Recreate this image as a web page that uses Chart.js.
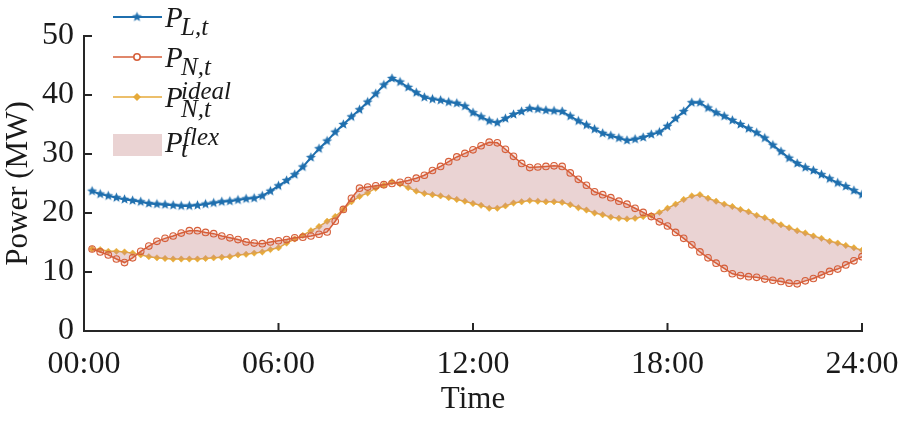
<!DOCTYPE html>
<html>
<head>
<meta charset="utf-8">
<script src="https://cdn.jsdelivr.net/npm/chart.js@4.4.1/dist/chart.umd.min.js"></script>
<style>
  body { margin: 0; background: #fff; }
  #wrap { position: relative; width: 903px; height: 421px; }
  .lg { position: absolute; font-family: "Liberation Serif", "DejaVu Serif", serif; font-style: italic; color: #1a1a1a; line-height: 1; white-space: nowrap; }
  .big { font-size: 29px; }
  .small { font-size: 25px; }
</style>
</head>
<body>
<div id="wrap">
  <canvas id="myLineChart" width="903" height="421"></canvas>
  <span class="lg big" style="left:165px;top:3px">P</span>
  <span class="lg small" style="left:181px;top:14px">L,t</span>
  <span class="lg big" style="left:165px;top:43px">P</span>
  <span class="lg small" style="left:181px;top:54px">N,t</span>
  <span class="lg big" style="left:165px;top:83px">P</span>
  <span class="lg small" style="left:181px;top:78px">ideal</span>
  <span class="lg small" style="left:181px;top:96px">N,t</span>
  <span class="lg big" style="left:165px;top:128px">P</span>
  <span class="lg small" style="left:183px;top:124px">flex</span>
  <span class="lg small" style="left:181px;top:136px">t</span>
</div>
<script>
// 15-minute samples, 00:15 .. 24:00
var hours = Array.from({ length: 96 }, function (_, i) { return (i + 1) / 4; });

var loadP = [23.7, 23.2, 22.9, 22.6, 22.3, 22.1, 21.9, 21.6, 21.5, 21.4, 21.3, 21.2,
  21.2, 21.3, 21.5, 21.7, 21.9, 22.0, 22.2, 22.4, 22.5, 22.9, 23.7, 24.6,
  25.5, 26.5, 27.8, 29.4, 30.9, 32.2, 33.7, 35.0, 36.3, 37.5, 38.8, 40.2,
  41.7, 42.8, 42.2, 41.3, 40.4, 39.6, 39.3, 39.1, 38.8, 38.6, 38.1, 37.0,
  36.3, 35.6, 35.3, 36.0, 36.7, 37.2, 37.7, 37.6, 37.4, 37.3, 37.2, 36.4,
  35.6, 34.9, 34.2, 33.5, 33.1, 32.7, 32.3, 32.5, 32.8, 33.3, 33.7, 34.7,
  36.0, 37.2, 38.7, 38.7, 37.8, 37.0, 36.4, 35.7, 35.0, 34.3, 33.6, 32.7,
  31.5, 30.4, 29.3, 28.4, 27.7, 27.2, 26.5, 25.8, 25.1, 24.5, 23.8, 23.1];

var netP = [13.9, 13.4, 12.9, 12.2, 11.6, 12.4, 13.5, 14.4, 15.2, 15.7, 16.1, 16.6,
  17.0, 17.0, 16.7, 16.5, 16.1, 15.8, 15.5, 15.1, 14.9, 14.8, 15.1, 15.3,
  15.5, 15.8, 15.9, 16.1, 16.4, 16.8, 18.6, 20.6, 22.5, 24.2, 24.4, 24.6,
  24.8, 25.0, 25.2, 25.5, 25.9, 26.4, 27.2, 27.9, 28.7, 29.5, 30.1, 30.7,
  31.4, 32.0, 31.9, 30.8, 29.6, 28.4, 27.7, 27.8, 27.9, 28.0, 27.9, 26.8,
  25.7, 24.7, 23.6, 23.1, 22.6, 22.0, 21.5, 20.8, 20.1, 19.4, 18.5, 17.8,
  16.7, 15.7, 14.6, 13.4, 12.4, 11.5, 10.6, 9.7, 9.4, 9.2, 9.1, 8.8,
  8.6, 8.4, 8.1, 8.0, 8.5, 8.9, 9.5, 10.1, 10.5, 11.2, 11.9, 12.6];

var idealP = [13.9, 13.8, 13.5, 13.5, 13.4, 13.2, 12.9, 12.6, 12.4, 12.3, 12.2, 12.2,
  12.2, 12.2, 12.3, 12.4, 12.5, 12.6, 12.9, 13.0, 13.2, 13.4, 13.8, 14.1,
  14.9, 15.6, 16.2, 17.0, 17.7, 18.6, 19.4, 20.6, 21.9, 22.8, 23.4, 24.2,
  24.7, 25.3, 24.9, 24.3, 23.7, 23.3, 23.1, 22.9, 22.6, 22.3, 22.0, 21.6,
  21.3, 20.8, 20.8, 21.2, 21.7, 21.9, 22.1, 22.0, 21.9, 21.9, 21.8, 21.4,
  20.9, 20.5, 20.0, 19.7, 19.3, 19.1, 19.0, 19.1, 19.4, 19.6, 20.1, 20.8,
  21.5, 22.3, 22.9, 23.1, 22.5, 22.0, 21.5, 21.1, 20.6, 20.2, 19.6, 19.2,
  18.6, 18.0, 17.5, 17.0, 16.6, 16.1, 15.7, 15.2, 14.9, 14.5, 14.1, 13.7];

var xTicks = [0, 6, 12, 18, 24];
var xTickLabels = ['00:00', '06:00', '12:00', '18:00', '24:00'];
var yTicks = [0, 10, 20, 30, 40, 50];

var blue = '#1f6fae', red = '#d65f3a', yellow = '#e6aa3a';
var flexFill = 'rgba(200, 140, 140, 0.38)';
var axisColor = '#262626';
var serif = '"Liberation Serif", "DejaVu Serif", serif';

function pts(arr) {
  return hours.map(function (h, i) { return { x: h, y: arr[i] }; });
}

function starMarker(color, r) {
  var c = document.createElement('canvas');
  var s = Math.ceil(r * 2 + 2);
  c.width = s; c.height = s;
  var g = c.getContext('2d');
  g.beginPath();
  for (var k = 0; k < 10; k++) {
    var a = -Math.PI / 2 + k * Math.PI / 5;
    var rr = k % 2 ? r * 0.45 : r;
    var px = s / 2 + rr * Math.cos(a), py = s / 2 + rr * Math.sin(a);
    if (k === 0) g.moveTo(px, py); else g.lineTo(px, py);
  }
  g.closePath();
  g.fillStyle = color;
  g.fill();
  return c;
}
var blueStar = starMarker(blue, 5.2);

// inward ticks + legend symbols
var decorPlugin = {
  id: 'decor',
  afterDraw: function (chart) {
    var ctx = chart.ctx, area = chart.chartArea;
    var xs = chart.scales.x, ys = chart.scales.y;
    ctx.save();
    ctx.strokeStyle = axisColor;
    ctx.lineWidth = 2;
    xTicks.forEach(function (v) {
      var px = xs.getPixelForValue(v);
      ctx.beginPath(); ctx.moveTo(px, area.bottom); ctx.lineTo(px, area.bottom - 8); ctx.stroke();
    });
    yTicks.forEach(function (v) {
      var py = ys.getPixelForValue(v);
      ctx.beginPath(); ctx.moveTo(area.left, py); ctx.lineTo(area.left + 8, py); ctx.stroke();
    });

    var x0 = 113, x1 = 162, xm = 137;
    // P_L,t
    ctx.strokeStyle = blue; ctx.lineWidth = 2;
    ctx.beginPath(); ctx.moveTo(x0, 17); ctx.lineTo(x1, 17); ctx.stroke();
    ctx.drawImage(blueStar, xm - blueStar.width / 2, 17 - blueStar.height / 2);
    // P_N,t
    ctx.strokeStyle = red; ctx.lineWidth = 1.6;
    ctx.beginPath(); ctx.moveTo(x0, 57); ctx.lineTo(x1, 57); ctx.stroke();
    ctx.fillStyle = '#fff';
    ctx.beginPath(); ctx.arc(xm, 57, 3.2, 0, Math.PI * 2); ctx.fill(); ctx.stroke();
    // ideal
    ctx.strokeStyle = yellow; ctx.lineWidth = 1.6;
    ctx.beginPath(); ctx.moveTo(x0, 97); ctx.lineTo(x1, 97); ctx.stroke();
    ctx.fillStyle = yellow;
    ctx.beginPath(); ctx.moveTo(xm, 93); ctx.lineTo(xm + 4, 97); ctx.lineTo(xm, 101); ctx.lineTo(xm - 4, 97); ctx.closePath(); ctx.fill();
    // flex patch
    ctx.fillStyle = flexFill;
    ctx.fillRect(x0, 134, x1 - x0, 22);
    ctx.restore();
  }
};

var ctx = document.getElementById('myLineChart').getContext('2d');
var myLineChart = new Chart(ctx, {
  type: 'line',
  data: {
    datasets: [
      {
        label: 'P_L,t',
        data: pts(loadP),
        borderColor: blue,
        borderWidth: 2,
        pointStyle: blueStar,
        pointRadius: 5,
        fill: false
      },
      {
        label: 'P_N,t',
        data: pts(netP),
        borderColor: red,
        borderWidth: 1.5,
        pointStyle: 'circle',
        pointRadius: 3.3,
        pointBorderWidth: 1.1,
        pointBorderColor: red,
        pointBackgroundColor: 'rgba(214, 95, 58, 0.15)',
        backgroundColor: flexFill,
        fill: '+1'
      },
      {
        label: 'P_N,t ideal',
        data: pts(idealP),
        borderColor: yellow,
        borderWidth: 1.5,
        pointStyle: 'rectRot',
        pointRadius: 3.2,
        pointBackgroundColor: yellow,
        pointBorderColor: yellow,
        pointBorderWidth: 0.5,
        fill: false
      }
    ]
  },
  options: {
    responsive: false,
    animation: false,
    layout: { padding: { top: 36, right: 41, left: 0, bottom: 0 } },
    plugins: { legend: { display: false }, tooltip: { enabled: false } },
    scales: {
      x: {
        type: 'linear',
        min: 0,
        max: 24,
        afterBuildTicks: function (scale) { scale.ticks = xTicks.map(function (v) { return { value: v }; }); },
        afterFit: function (scale) { scale.height = 90; scale.paddingLeft = 0; scale.paddingRight = 0; },
        grid: { display: false, drawTicks: false },
        border: { display: true, color: axisColor, width: 2 },
        ticks: {
          padding: 14,
          color: '#1a1a1a',
          font: { family: serif, size: 32 },
          maxRotation: 0,
          callback: function (v) { return xTickLabels[xTicks.indexOf(v)]; }
        },
        title: { display: true, text: 'Time', color: '#1a1a1a', font: { family: serif, size: 31 }, padding: { top: 0, bottom: 3 } }
      },
      y: {
        min: 0,
        max: 50,
        afterBuildTicks: function (scale) { scale.ticks = yTicks.map(function (v) { return { value: v }; }); },
        afterFit: function (scale) { scale.width = 84; scale.paddingTop = 0; scale.paddingBottom = 0; },
        grid: { display: false, drawTicks: false },
        border: { display: true, color: axisColor, width: 2 },
        ticks: {
          padding: 10,
          color: '#1a1a1a',
          font: { family: serif, size: 32 }
        },
        title: { display: true, text: 'Power (MW)', color: '#1a1a1a', font: { family: serif, size: 31 }, padding: { top: 0, bottom: 2 } }
      }
    }
  },
  plugins: [decorPlugin]
});
</script>
</body>
</html>
